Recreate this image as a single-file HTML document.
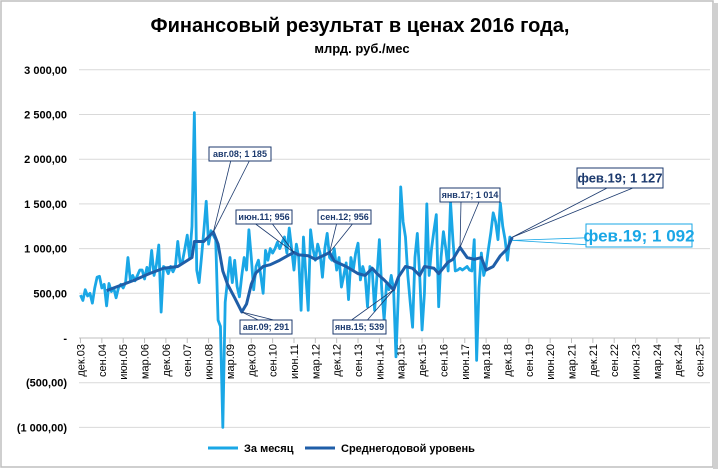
<!DOCTYPE html>
<html><head><meta charset="utf-8"><style>
body{margin:0;background:#fff;}
#wrap{position:relative;width:720px;height:470px;overflow:hidden;font-family:"Liberation Sans",sans-serif;}
</style></head><body>
<div id="wrap">
<svg id="chart" width="720" height="470" xmlns="http://www.w3.org/2000/svg">
<rect x="1" y="1" width="712" height="466" fill="#fff" stroke="#bfbfbf" stroke-width="1.5"/>
<rect x="713" y="3" width="5" height="466" fill="#d0d0d0"/>
<text x="360" y="32" text-anchor="middle" font-size="20" font-weight="bold" fill="#000">Финансовый результат в ценах 2016 года,</text>
<text x="362" y="53" text-anchor="middle" font-size="13" font-weight="bold" fill="#000">млрд. руб./мес</text>
<g id="grid"></g><g id="yl"></g><g id="xl"></g><g id="series"></g><g id="ann"></g>
<g>
<line x1="208" y1="448" x2="238" y2="448" stroke="#1aa7e6" stroke-width="3"/>
<text x="244" y="452" font-size="11" font-weight="bold" fill="#000">За месяц</text>
<line x1="305" y1="448" x2="335" y2="448" stroke="#1f5ea8" stroke-width="3"/>
<text x="341" y="452" font-size="11" font-weight="bold" fill="#000">Среднегодовой уровень</text>
</g>
</svg>
</div>
<script>
const yTicks=[3000,2500,2000,1500,1000,500,0,-500,-1000];
const yTickLabels=["3 000,00","2 500,00","2 000,00","1 500,00","1 000,00","500,00","-","(500,00)","(1 000,00)"];
const xTickLabels=["дек.03","сен.04","июн.05","мар.06","дек.06","сен.07","июн.08","мар.09","дек.09","сен.10","июн.11","мар.12","дек.12","сен.13","июн.14","мар.15","дек.15","сен.16","июн.17","мар.18","дек.18","сен.19","июн.20","мар.21","дек.21","сен.22","июн.23","мар.24","дек.24","сен.25"];
const monthly=[480,420,540,470,500,390,560,680,690,560,600,360,610,
520,560,450,560,600,560,620,900,650,700,640,700,
760,760,660,790,720,980,700,820,1040,290,800,780,
720,800,740,800,1080,840,860,1000,1150,900,1250,
2520,760,620,900,1200,1530,1050,1200,1150,1100,200,130,-1000,
400,650,900,620,870,580,460,700,900,760,1210,900,
540,800,870,700,500,980,870,1000,950,1000,1070,1000,
1070,1130,950,1230,1000,760,1050,900,310,1130,700,310,1210,
1000,870,1050,950,680,1000,1170,900,870,1000,760,900,570,
700,840,430,900,760,950,1060,650,800,700,350,800,760,310,
700,1100,540,200,600,540,700,540,-210,500,1690,1300,1130,700,400,120,
900,1170,700,90,500,1500,700,1000,1200,1380,350,900,1190,1000,750,
1520,1100,750,760,780,760,780,800,760,750,1100,-250,560,
950,700,800,1000,1180,1400,1300,1100,1510,1250,1100,870,1130,1092];
const avgMonths=[11,17,23,29,35,41,44,47,48,52,56,58,60,62,65,68,70,72,74,77,80,84,88,90,92,96,99,103,105,107,112,117,120,123,125,128,132,134,137,140,143,145,149,151,155,157,160,163,166,169,171,174,177,180,182];
const avgValues=[530,590,650,720,780,800,850,900,1080,1080,1185,1050,750,600,450,291,380,600,730,800,820,870,930,956,930,920,880,930,956,860,800,720,700,780,720,650,539,680,800,780,700,800,780,720,850,880,1014,900,880,900,760,800,920,1000,1127];
const annotations=[
 {t:"авг.08; 1 185",m:56,v:1185,bx:209,by:147,bw:62,bh:14,fs:9,c:"#1c3a6e",side:0},
 {t:"авг.09; 291",m:68,v:291,bx:240,by:320,bw:52,bh:14,fs:9,c:"#1c3a6e",side:0},
 {t:"июн.11; 956",m:90,v:956,bx:236,by:210,bw:56,bh:14,fs:9,c:"#1c3a6e",side:0},
 {t:"сен.12; 956",m:105,v:956,bx:318,by:210,bw:53,bh:14,fs:9,c:"#1c3a6e",side:0},
 {t:"янв.15; 539",m:132,v:539,bx:333,by:320,bw:53,bh:14,fs:9,c:"#1c3a6e",side:0},
 {t:"янв.17; 1 014",m:160,v:1014,bx:440,by:188,bw:60,bh:14,fs:9,c:"#1c3a6e",side:0},
 {t:"фев.19; 1 127",m:182,v:1127,bx:577,by:168,bw:86,bh:20,fs:13,c:"#1c3a6e",side:0},
 {t:"фев.19; 1 092",m:182,v:1092,bx:586,by:224,bw:106,bh:23,fs:17,c:"#1aa7e6",side:1}];
const NS="http://www.w3.org/2000/svg";
const X=m=>80.5+m*2.372;
const Y=v=>338-v*0.0894;
function mk(tag,attrs,parent){const e=document.createElementNS(NS,tag);for(const k in attrs)e.setAttribute(k,attrs[k]);document.getElementById(parent).appendChild(e);return e;}
yTicks.forEach((v,i)=>{
 if(v!==0){const g=mk("line",{x1:79,x2:710,y1:Y(v),y2:Y(v),stroke:"#d9d9d9","stroke-width":1},"grid");
 
 }
 const t=mk("text",{x:67,y:Y(v)+4,"text-anchor":"end","font-size":11,"font-weight":"bold",fill:"#000"},"yl");
 t.textContent=yTickLabels[i];
 
 
});
const ax=mk("line",{x1:79,x2:710,y1:Y(0),y2:Y(0),stroke:"#bfbfbf","stroke-width":1},"grid");


xTickLabels.forEach((l,i)=>{
 const x=X(i*9);
 const tk=mk("line",{x1:x,x2:x,y1:Y(0),y2:Y(0)+5,stroke:"#bfbfbf"},"xl");
 
 
 const t=mk("text",{transform:`translate(${x+4},344) rotate(-90)`,"text-anchor":"end","font-size":11,fill:"#000"},"xl");
 t.textContent=l;
 
 
});
const p1=mk("polyline",{points:monthly.map((v,i)=>X(i)+","+Y(v)).join(" "),fill:"none",stroke:"#1aa7e6","stroke-width":2.8,"stroke-linejoin":"round"},"series");


const p2=mk("polyline",{points:avgMonths.map((m,i)=>X(m)+","+Y(avgValues[i])).join(" "),fill:"none",stroke:"#1f5ea8","stroke-width":3,"stroke-linejoin":"round"},"series");


annotations.forEach(a=>{
 const px=X(a.m),py=Y(a.v);
 let ex1,ey1,ex2,ey2;
 if(a.side===1){ex1=a.bx;ey1=a.by+a.bh*0.6;ex2=a.bx;ey2=a.by+a.bh*0.9;}
 else{const below=a.by>py;const ey=below?a.by:a.by+a.bh;ex1=a.bx+a.bw*0.35;ey1=ey;ex2=a.bx+a.bw*0.65;ey2=ey;}
 const l1=mk("line",{x1:px,y1:py,x2:ex1,y2:ey1,stroke:a.c,"stroke-width":0.8},"ann");
 
 
 const l2=mk("line",{x1:px,y1:py,x2:ex2,y2:ey2,stroke:a.c,"stroke-width":0.8},"ann");
 
 
 const r=mk("rect",{x:a.bx,y:a.by,width:a.bw,height:a.bh,fill:"#fff",stroke:a.c,"stroke-width":1},"ann");
 
 
 const t=mk("text",{x:a.bx+a.bw/2,y:a.by+a.bh/2+a.fs*0.36,"text-anchor":"middle","font-size":a.fs,"font-weight":"bold",fill:a.c},"ann");
 t.textContent=a.t;
 
 
});
</script>
</body></html>
